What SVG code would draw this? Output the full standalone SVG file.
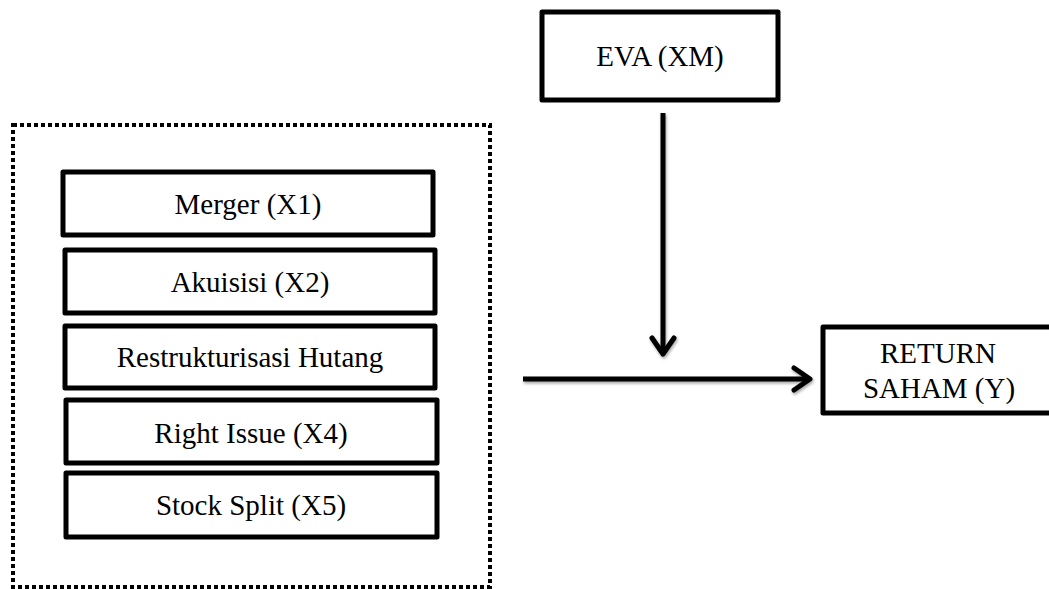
<svg xmlns="http://www.w3.org/2000/svg" width="1049" height="589" viewBox="0 0 1049 589">
<style>
.box{fill:#fff;stroke:#000;stroke-width:5;stroke-linejoin:round}
.lbl{font-family:"Liberation Serif","Times New Roman",serif;font-size:29px;fill:#000;text-anchor:middle}
.conn{stroke:#000;stroke-width:5;fill:none;stroke-linecap:butt}
.head{stroke:#000;stroke-width:5;fill:none;stroke-linecap:round;stroke-linejoin:round}
</style>
<defs>
<filter id="sh" x="-10%" y="-50%" width="120%" height="200%">
<feDropShadow dx="1" dy="2" stdDeviation="1.5" flood-color="#000" flood-opacity="0.35"/>
</filter>
</defs>
<rect width="1049" height="589" fill="#fff"/>
<g id="group-box">
<rect x="13" y="125" width="477" height="462" fill="none" stroke="#000" stroke-width="4" stroke-dasharray="4 3"/>
</g>
<g id="node-eva">
<rect class="box" x="542" y="12" width="236" height="88"/>
<text class="lbl" x="660" y="66">EVA (XM)</text>
</g>
<g id="node-x1">
<rect class="box" x="63" y="172" width="370" height="63"/>
<text class="lbl" x="248" y="214">Merger (X1)</text>
</g>
<g id="node-x2">
<rect class="box" x="65" y="250" width="370" height="63"/>
<text class="lbl" x="250" y="292">Akuisisi (X2)</text>
</g>
<g id="node-x3">
<rect class="box" x="65" y="326" width="370" height="62"/>
<text class="lbl" x="250" y="367">Restrukturisasi Hutang</text>
</g>
<g id="node-x4">
<rect class="box" x="66" y="400" width="371" height="63"/>
<text class="lbl" x="251" y="443">Right Issue (X4)</text>
</g>
<g id="node-x5">
<rect class="box" x="66" y="473" width="371" height="64"/>
<text class="lbl" x="251" y="515">Stock Split (X5)</text>
</g>
<g id="node-y">
<rect class="box" x="823" y="327" width="236" height="86"/>
<text class="lbl" x="938" y="363">RETURN</text>
<text class="lbl" x="939" y="398">SAHAM (Y)</text>
</g>
<g id="connectors" filter="url(#sh)">
<line class="conn" x1="663" y1="113" x2="663" y2="354"/>
<polyline class="head" points="652,338 663,354 674,338"/>
<line class="conn" x1="523" y1="379" x2="810" y2="379"/>
<polyline class="head" points="794,368 810,379 794,390"/>
</g>
</svg>
